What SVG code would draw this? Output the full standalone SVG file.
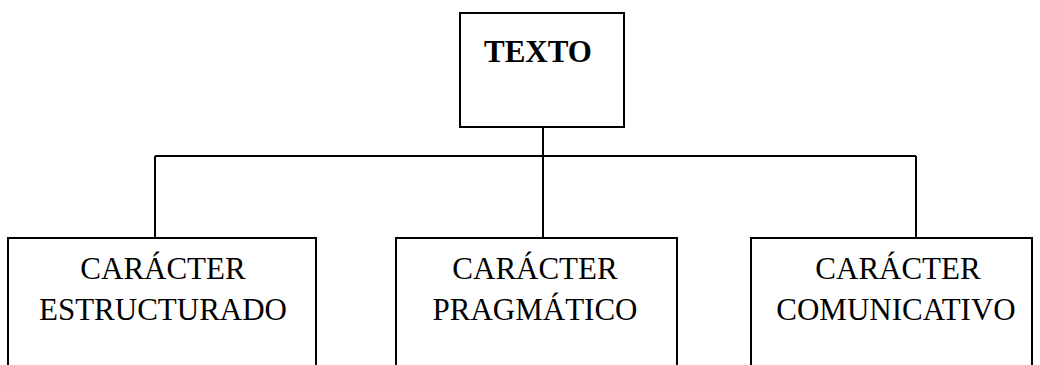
<svg xmlns="http://www.w3.org/2000/svg" width="1040" height="365" viewBox="0 0 1040 365">
<style>
.box{fill:#fff;stroke:#000;stroke-width:2}
.ln{fill:none;stroke:#000;stroke-width:2}
.t{font-family:"Liberation Serif","Times New Roman",serif;font-size:31px;fill:#000;text-anchor:middle}
.b{font-weight:bold}
</style>
<rect width="1040" height="365" fill="#fff"/>
<g id="connectors">
<path class="ln" d="M543 127V156M155 156H916M155 156V238M543 156V238M916 156V238"/>
</g>
<g id="texto">
<rect class="box" x="460" y="13" width="164" height="114"/>
<text class="t b" x="538" y="62">TEXTO</text>
</g>
<g id="estructurado">
<path class="box" d="M8 366V238H316V366"/>
<text class="t" x="163" y="279">CARÁCTER</text>
<text class="t" x="163" y="320">ESTRUCTURADO</text>
</g>
<g id="pragmatico">
<path class="box" d="M396 366V238H677V366"/>
<text class="t" x="535" y="279">CARÁCTER</text>
<text class="t" x="535" y="320">PRAGMÁTICO</text>
</g>
<g id="comunicativo">
<path class="box" d="M751 366V238H1032V366"/>
<text class="t" x="898" y="279">CARÁCTER</text>
<text class="t" x="896" y="320">COMUNICATIVO</text>
</g>
</svg>
